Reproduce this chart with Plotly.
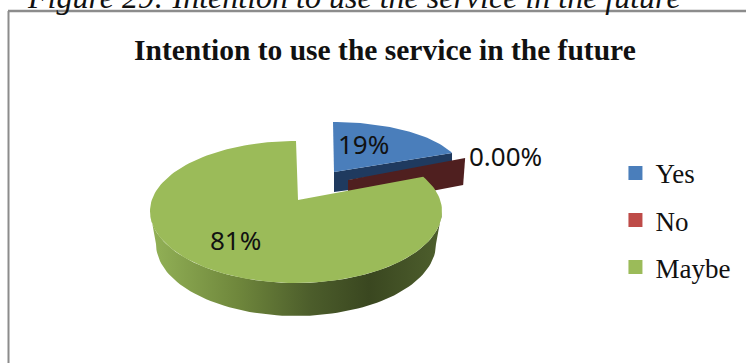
import numpy as np
import plotly.graph_objects as go

# ---- data
categories = ["Yes", "No", "Maybe"]
shares = [19, 0, 81]
slice_labels = ["19%", "0.00%", "81%"]
title_text = "Intention to use the service in the future"
caption_text = "Figure 29: Intention to use the service in the future"

# ---- styles
TOP = {"Yes": "#4a7ebb", "No": "#be4b48", "Maybe": "#9bbb59"}
SIDE_BLUE = "#1f3a5f"
SIDE_RED = "#4f1f1f"
SERIF = "Liberation Serif"

# cumulative angles, clockwise from 12 o'clock, from the data
cum = np.cumsum([0] + shares) / sum(shares) * 360.0


def rim(cx, cy, rx, ry_back, ry_front, a):
    a = np.radians(np.asarray(a, dtype=float))
    c = np.cos(a)
    ry = np.where(c >= 0, ry_back, ry_front)
    return cx + rx * np.sin(a), cy - ry * c


def poly(xs, ys, color, **kw):
    return go.Scatter(x=list(xs), y=list(ys), mode="lines", fill="toself", fillcolor=color,
                      line=dict(width=0, color=color), hoverinfo="skip", showlegend=False, **kw)


fig = go.Figure()

# --- Yes slice
a0, a1 = cum[0], cum[1]
apex_blue = (334, 172)
arc = np.linspace(a0, a1, 40)
bx, by = rim(333, 171, 128, 49, 49, arc)
ex, ey = bx[-1], by[-1]
fig.add_trace(poly([apex_blue[0], ex, ex, 349, 349, apex_blue[0]],
                   [apex_blue[1], ey, ey + 11, 180, 190, apex_blue[1] + 20], SIDE_BLUE))
fig.add_trace(poly(np.r_[apex_blue[0], bx], np.r_[apex_blue[1], by], TOP["Yes"]))

# --- No slice (zero width: only its cut face shows)
rx_, ry_ = rim(348, 180, 126, 60, 60, [cum[2]])
fig.add_trace(poly([348, rx_[0], rx_[0] - 2, 348], [180, ry_[0], ry_[0] + 27, 207], SIDE_RED))

# --- Maybe slice
CX, CY, RX, RYB, RYF = 296, 211, 146, 70, 72
side = np.linspace(270, 90, 80)  # front half, left to right through the bottom
sx, sy = rim(CX, CY, RX, RYB, RYF, side)
lx, ly = rim(CX, CY + 33, RX - 6, 70, 72, side[::-1])
fig.add_trace(go.Scatter(
    x=list(np.r_[sx, lx]), y=list(np.r_[sy, ly]), mode="lines", fill="toself",
    line=dict(width=0), hoverinfo="skip", showlegend=False,
    fillgradient=dict(type="horizontal", colorscale=[
        [0.0, "#93b257"], [0.3, "#6f873c"], [0.55, "#4c5d2b"], [0.75, "#3a4720"], [1.0, "#4e5f2d"]]),
))
arc = np.linspace(cum[2] - 7.8, cum[3], 160)
gx, gy = rim(CX, CY, RX, RYB, RYF, arc)
fig.add_trace(poly(np.r_[298, gx, 298], np.r_[200, gy, 200], TOP["Maybe"]))

# --- legend entries
for name in categories:
    fig.add_trace(go.Scatter(x=[None], y=[None], mode="markers", name=name, legendgroup=name,
                             marker=dict(symbol="square", size=14, color=TOP[name])))

# --- text
anns = [
    dict(x=363, y=144, text=slice_labels[0]),
    dict(x=505, y=156, text=slice_labels[1]),
    dict(x=235, y=240, text=slice_labels[2]),
]
annotations = [dict(a, xref="x", yref="y", showarrow=False,
                    font=dict(family="Noto Sans", size=26, color="#111111")) for a in anns]
annotations.append(dict(x=385, y=50, text="<b>%s</b>" % title_text, xref="x", yref="y", showarrow=False,
                        font=dict(family=SERIF, size=29.5, color="#111111")))
annotations.append(dict(x=354, y=17, yanchor="bottom", text="<i>%s</i>" % caption_text, xref="x", yref="y",
                        showarrow=False, font=dict(family=SERIF, size=32, color="#111111")))

fig.update_layout(
    width=746, height=363, margin=dict(l=0, r=0, t=0, b=0),
    paper_bgcolor="white", plot_bgcolor="white",
    xaxis=dict(range=[0, 746], visible=False, fixedrange=True),
    yaxis=dict(range=[363, 0], visible=False, fixedrange=True),
    annotations=annotations,
    shapes=[dict(type="line", xref="x", yref="y", x0=8.5, x1=8.5, y0=11, y1=363, layer="below",
                 line=dict(color="#8c8c8c", width=2)),
            dict(type="line", xref="x", yref="y", x0=8, x1=746, y0=11, y1=11, layer="below",
                 line=dict(color="#8c8c8c", width=2.5))],
    legend=dict(x=0.825, y=0.59, xanchor="left", yanchor="top", traceorder="grouped", tracegroupgap=9,
                itemsizing="trace", bgcolor="rgba(0,0,0,0)",
                font=dict(family=SERIF, size=27, color="#111111")),
)
fig.write_html("out.html", config={"displayModeBar": False}, post_script="document.body.style.margin='0';")
